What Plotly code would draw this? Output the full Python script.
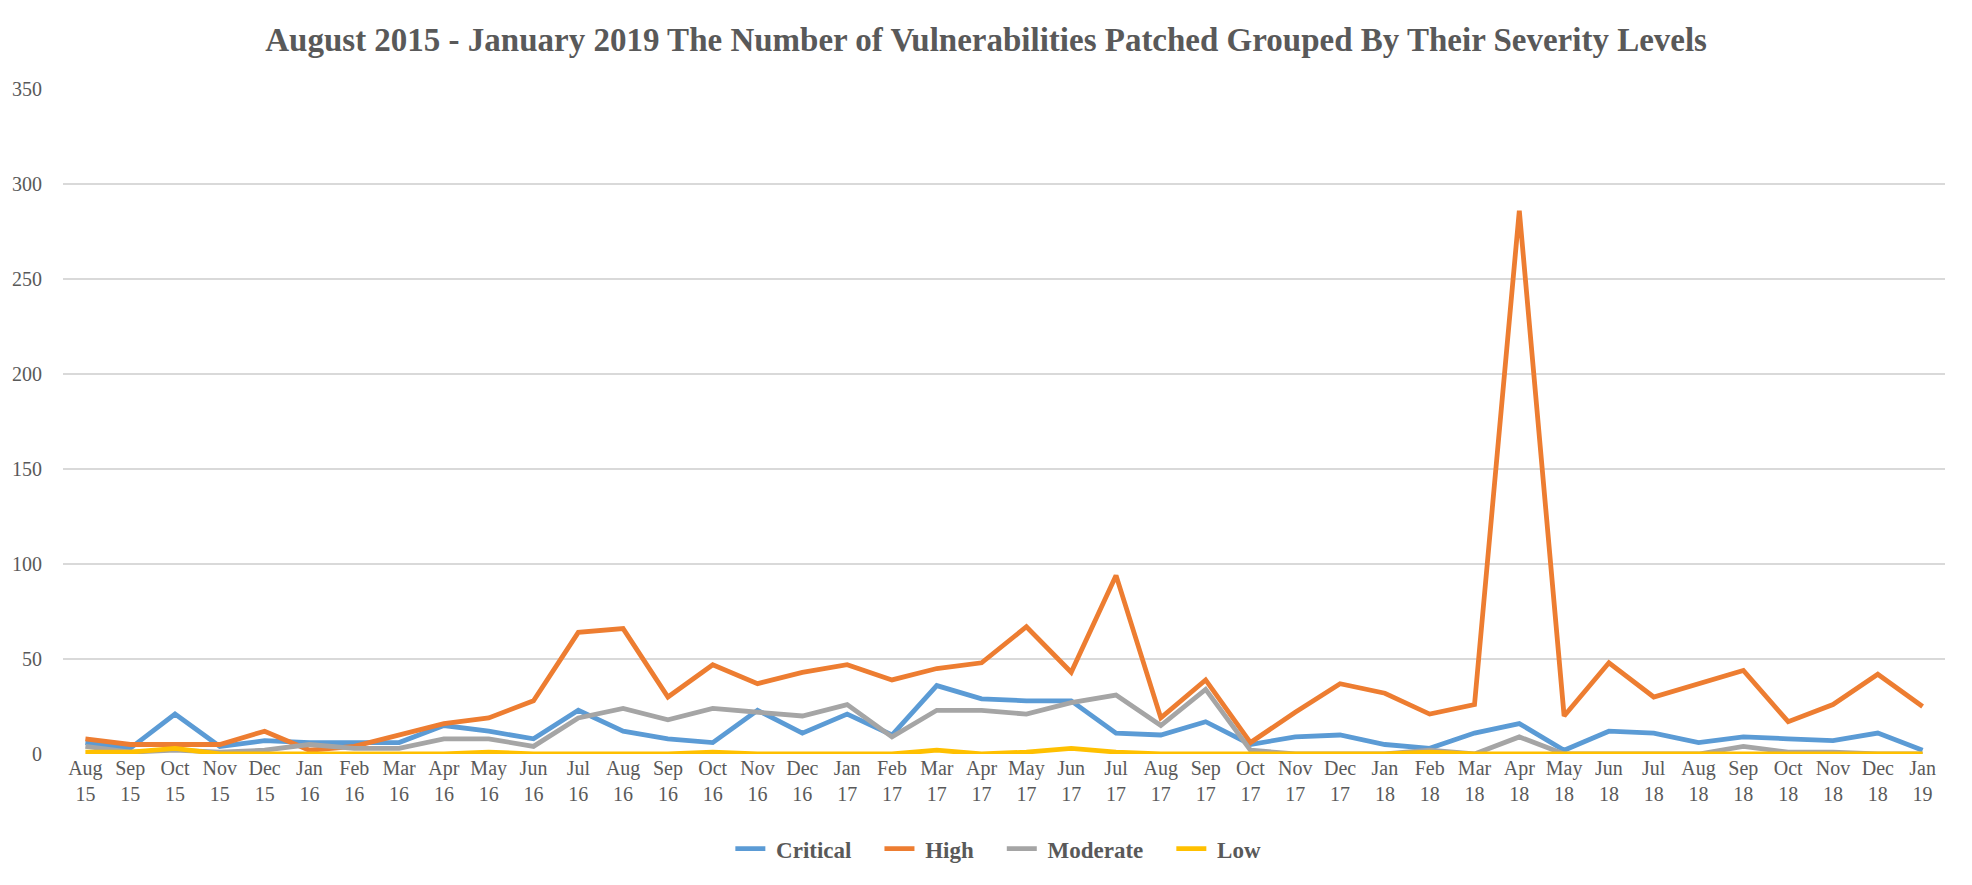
import plotly.graph_objects as go

months = ["Aug<br>15", "Sep<br>15", "Oct<br>15", "Nov<br>15", "Dec<br>15",
          "Jan<br>16", "Feb<br>16", "Mar<br>16", "Apr<br>16", "May<br>16", "Jun<br>16",
          "Jul<br>16", "Aug<br>16", "Sep<br>16", "Oct<br>16", "Nov<br>16", "Dec<br>16",
          "Jan<br>17", "Feb<br>17", "Mar<br>17", "Apr<br>17", "May<br>17", "Jun<br>17",
          "Jul<br>17", "Aug<br>17", "Sep<br>17", "Oct<br>17", "Nov<br>17", "Dec<br>17",
          "Jan<br>18", "Feb<br>18", "Mar<br>18", "Apr<br>18", "May<br>18", "Jun<br>18",
          "Jul<br>18", "Aug<br>18", "Sep<br>18", "Oct<br>18", "Nov<br>18", "Dec<br>18",
          "Jan<br>19"]

critical = [6, 3, 21, 4, 7,
            6, 6, 6, 15, 12, 8, 23, 12, 8, 6, 23, 11,
            21, 10, 36, 29, 28, 28, 11, 10, 17, 5, 9, 10,
            5, 3, 11, 16, 2, 12, 11, 6, 9, 8, 7, 11,
            2]
high = [8, 5, 5, 5, 12,
        2, 4, 10, 16, 19, 28, 64, 66, 30, 47, 37, 43,
        47, 39, 45, 48, 67, 43, 94, 19, 39, 6, 22, 37,
        32, 21, 26, 286, 20, 48, 30, 37, 44, 17, 26, 42,
        25]
moderate = [4, 1, 2, 1, 2,
            5, 3, 3, 8, 8, 4, 19, 24, 18, 24, 22, 20,
            26, 9, 23, 23, 21, 27, 31, 15, 34, 2, 0, 0,
            0, 2, 0, 9, 0, 0, 0, 0, 4, 1, 1, 0,
            0]
low = [1, 1, 3, 0, 0,
       0, 0, 0, 0, 1, 0, 0, 0, 0, 1, 0, 0,
       0, 0, 2, 0, 1, 3, 1, 0, 0, 0, 0, 0,
       0, 1, 0, 0, 0, 0, 0, 0, 0, 0, 0, 0,
       0]

series = [("Critical", critical, "#5B9BD5"),
          ("High", high, "#ED7D31"),
          ("Moderate", moderate, "#A5A5A5"),
          ("Low", low, "#FFC000")]

gap = "\u00a0" * 4
fig = go.Figure()
for i, (name, vals, color) in enumerate(series):
    label = "\u00a0" + name + (gap if i < len(series) - 1 else "")
    fig.add_trace(go.Scatter(x=months, y=vals, name=label, mode="lines",
                             line=dict(color=color, width=4.8)))

fig.update_layout(
    width=1972, height=885,
    paper_bgcolor="white", plot_bgcolor="white",
    margin=dict(l=55, r=35, t=81, b=139),
    title=dict(text="<b>August 2015 - January 2019 The Number of Vulnerabilities Patched Grouped By Their Severity Levels</b>",
               x=0.496, xanchor="center", y=0.964, yanchor="middle",
               font=dict(family="Liberation Serif", size=33, color="#595959")),
    font=dict(family="Liberation Serif", color="#595959", size=20),
    showlegend=True,
    legend=dict(orientation="h", x=0.497, xanchor="center", y=-0.11, yanchor="top",
                font=dict(family="Liberation Serif", size=23, color="#595959", weight="bold"),
                itemwidth=30, tracegroupgap=0),
)
fig.update_xaxes(type="category", range=[-0.5, len(months) - 0.5], automargin=False,
                 showgrid=False, showline=False, ticks="",
                 tickangle=0, tickfont=dict(size=20, color="#595959"))
fig.update_yaxes(range=[0, 350], dtick=50, showgrid=True, gridcolor="#D9D9D9", gridwidth=1.5,
                 zeroline=False, showline=False, ticks="outside", ticklen=16,
                 tickcolor="rgba(0,0,0,0)", automargin=False,
                 tickfont=dict(size=20, color="#595959"))

fig.write_html("out.html")
